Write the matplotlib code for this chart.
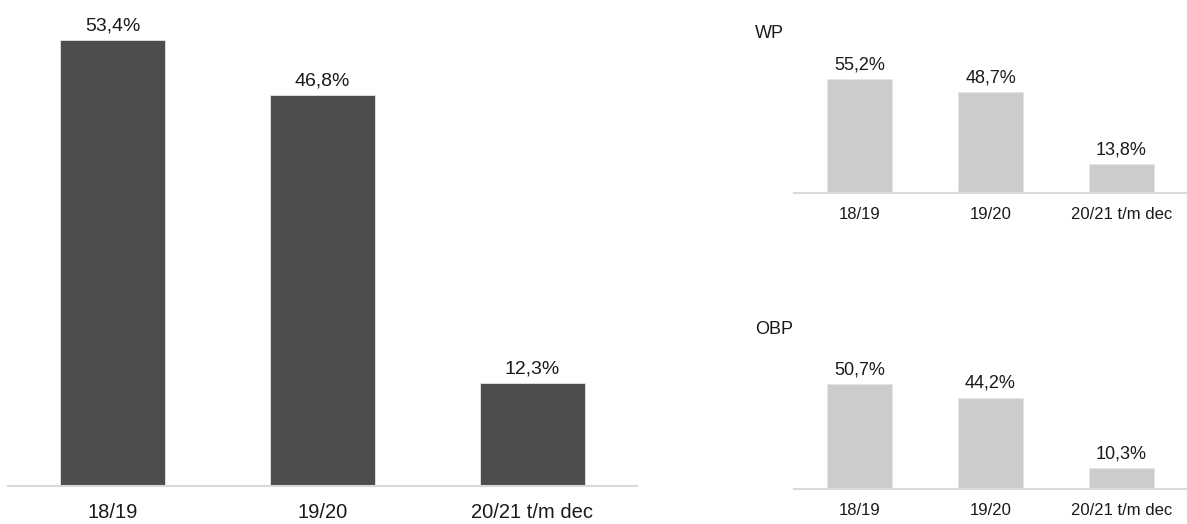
import matplotlib.pyplot as plt

plt.rcParams['font.family'] = ['Liberation Sans', 'DejaVu Sans']

# --- data
categories = ['18/19', '19/20', '20/21 t/m dec']
totaal = [53.4, 46.8, 12.3]
wp = [55.2, 48.7, 13.8]
obp = [50.7, 44.2, 10.3]

dark = '#4d4d4d'
light = '#cccccc'
axis_col = '#d9d9d9'
text_col = '#1a1a1a'


def fmt(v):
    return ('%.1f%%' % v).replace('.', ',')


def bar_panel(ax, values, color, ymax, vfs, tfs, pad, off):
    x = range(len(values))
    ax.bar(x, values, width=0.5, color=color, edgecolor='#e6e6e6', linewidth=0.6)
    ax.set_xlim(-0.5, len(values) - 0.5)
    ax.set_ylim(0, ymax)
    for side in ['top', 'right', 'left']:
        ax.spines[side].set_visible(False)
    ax.spines['bottom'].set_color(axis_col)
    ax.spines['bottom'].set_linewidth(1.5)
    ax.set_yticks([])
    ax.set_xticks(list(x))
    ax.set_xticklabels(categories, fontsize=tfs, color=text_col)
    ax.tick_params(axis='x', length=0, pad=pad)
    for xi, v in zip(x, values):
        ax.annotate(fmt(v), (xi, v), xytext=(0, off), textcoords='offset points',
                    ha='center', va='bottom', fontsize=vfs, color=text_col,
                    annotation_clip=False)
    ax.set_facecolor('none')


fig = plt.figure(figsize=(11.87, 5.24), dpi=100)

ax_main = fig.add_axes([0.0067, 0.0725, 0.530, 0.876])
bar_panel(ax_main, totaal, dark, 55, 14, 14.5, 12, 4)

ax_wp = fig.add_axes([0.669, 0.6317, 0.331, 0.237])
bar_panel(ax_wp, wp, light, 60, 13, 12, 10, 4)

ax_obp = fig.add_axes([0.669, 0.0668, 0.331, 0.237])
bar_panel(ax_obp, obp, light, 60, 13, 12, 10, 4)

fig.text(755 / 1187, 1 - 33 / 524, 'WP', fontsize=13, color=text_col,
         ha='left', va='center')
fig.text(755 / 1187, 1 - 330 / 524, 'OBP', fontsize=13, color=text_col,
         ha='left', va='center')

plt.savefig('out.png', dpi=100)
